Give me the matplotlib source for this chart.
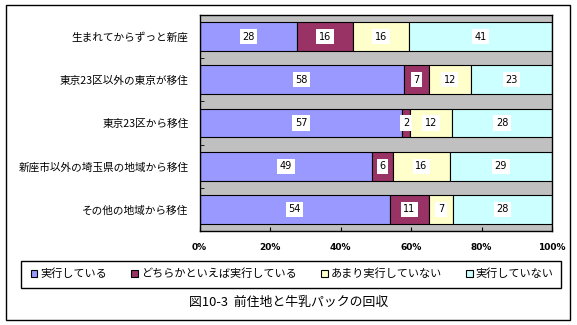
import numpy as np
import matplotlib
matplotlib.use('Agg')
import matplotlib.pyplot as plt
from matplotlib.patches import Rectangle
from matplotlib.ticker import FuncFormatter

plt.rcParams['font.family'] = ['Noto Sans CJK JP', 'DejaVu Sans']

# data (percent)
categories = ['生まれてからずっと新座', '東京23区以外の東京が移住', '東京23区から移住',
              '新座市以外の埼玉県の地域から移住', 'その他の地域から移住']
series_names = ['実行している', 'どちらかといえば実行している', 'あまり実行していない', '実行していない']
jikko = [28, 58, 57, 49, 54]
dochira = [16, 7, 2, 6, 11]
amari = [16, 12, 12, 16, 7]
shinai = [41, 23, 28, 29, 28]
colors = ['#9999FF', '#993366', '#FFFFCC', '#CCFFFF']
xticks = [0, 0.2, 0.4, 0.6, 0.8, 1.0]
caption = '図10-3  前住地と牛乳パックの回収'

W, H = 577, 325
fig = plt.figure(figsize=(W / 100, H / 100), dpi=100, facecolor='white')
ax = fig.add_axes([199.5 / W, 1 - 231 / H, 352.5 / W, 216 / H])
ax.set_facecolor('#C0C0C0')

vals = np.array([jikko, dochira, amari, shinai], dtype=float)
totals = vals.sum(axis=0)
fracs = vals / totals
y = np.arange(len(categories))
left = np.zeros(len(categories))
handles = []
for k in range(len(series_names)):
    b = ax.barh(y, fracs[k], left=left, height=0.67, color=colors[k],
                edgecolor='black', linewidth=0.8, label=series_names[k])
    handles.append(b)
    for i in range(len(categories)):
        ax.text(left[i] + fracs[k][i] / 2, y[i], str(int(vals[k][i])),
                ha='center', va='center', fontsize=7, family='DejaVu Sans',
                bbox=dict(facecolor='white', edgecolor='none', pad=1.8))
    left = left + fracs[k]

ax.set_xlim(0, 1)
ax.set_ylim(len(categories) - 0.5, -0.5)
ax.set_xticks(xticks)
ax.xaxis.set_major_formatter(FuncFormatter(lambda v, p: '%d%%' % round(v * 100)))
ax.tick_params(axis='x', direction='in', length=3, pad=9, labelsize=6.5)
for t in ax.get_xticklabels():
    t.set_family('DejaVu Sans')
    t.set_fontweight('bold')
ax.set_yticks(y)
ax.set_yticklabels(categories, fontsize=7.7)
ax.tick_params(axis='y', which='major', length=0, pad=8)
ax.set_yticks(y[:-1] + 0.5, minor=True)
ax.tick_params(axis='y', which='minor', direction='in', length=3)
for s in ax.spines.values():
    s.set_linewidth(1)

# legend without its own frame, box drawn separately
leg = fig.legend(handles=handles, labels=series_names, loc='center', ncol=4,
                 bbox_to_anchor=(292 / W, 1 - 274 / H), frameon=False,
                 fontsize=8, handlelength=0.6, handleheight=0.6, handletextpad=0.25,
                 columnspacing=2.2, borderaxespad=0, borderpad=0)
fig.patches.append(Rectangle((21 / W, 1 - 288 / H), 540 / W, 27 / H, transform=fig.transFigure,
                             fill=False, edgecolor='black', linewidth=1))

fig.text(0.5, 1 - 302 / H, caption, ha='center', va='center', fontsize=9.3)

fig.patches.append(Rectangle((6 / W, 1 - 320 / H), 564 / W, 315 / H, transform=fig.transFigure,
                             fill=False, edgecolor='black', linewidth=1))

fig.savefig('out.png', dpi=100)
